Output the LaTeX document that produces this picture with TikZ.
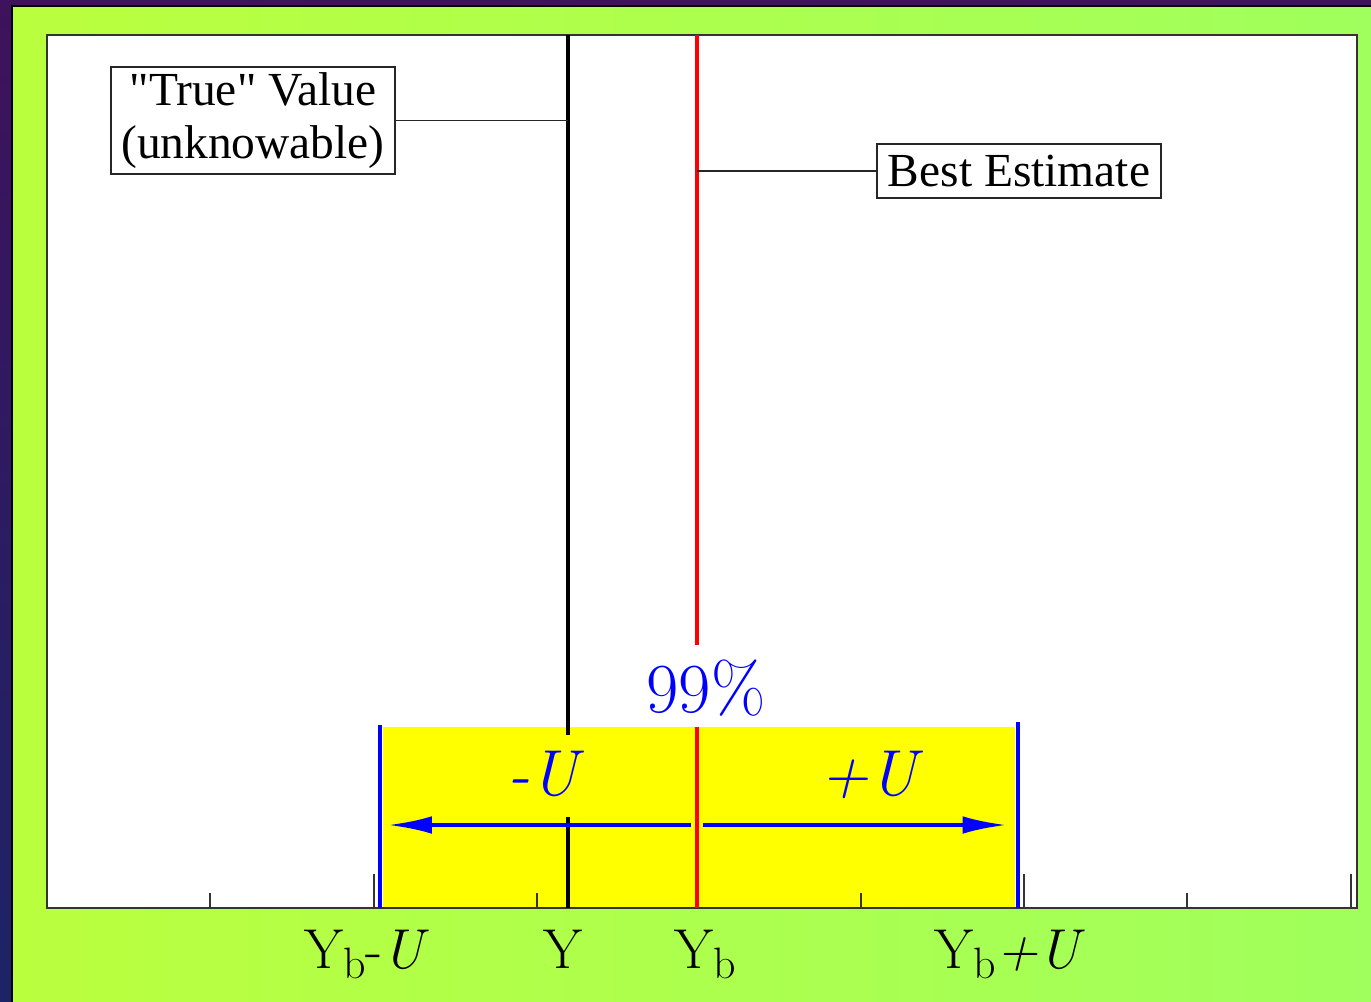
\documentclass[tikz,border=0pt]{standalone}
\usepackage{fontspec}
\newfontfamily\calloutfont{Liberation Serif}
\usetikzlibrary{arrows.meta, positioning}

\definecolor{slidetop}{RGB}{62,18,92}
\definecolor{slidebot}{RGB}{28,36,102}
\definecolor{limeL}{RGB}{186,255,62}
\definecolor{limeM}{RGB}{140,255,115}
\definecolor{limeR}{RGB}{160,255,92}
\definecolor{bandyellow}{RGB}{255,255,0}

\newcommand{\subb}{\raisebox{-5.7pt}{\fontsize{25}{28}\selectfont b}}

\begin{document}
\begin{tikzpicture}[x=0.02cm, y=-0.02cm,
            caja/.style={rectangle, draw=black!85, line width=1.2pt, fill=white, inner sep=0pt, align=center, font=\calloutfont\fontsize{27}{30}\selectfont},
            marca/.style={line width=2.3pt},
            flecha/.style={blue, line width=2.3pt, -{Latex[length=25pt, width=10pt]}},
            etiqueta/.style={blue, anchor=base, inner sep=0pt, font=\fontsize{37}{42}\selectfont},
            eje/.style={anchor=base, inner sep=0pt, font=\fontsize{32}{36}\selectfont},
            rayita/.style={line width=1.2pt, black!80}]

            \useasboundingbox (0,0) rectangle (1371,1001);
            % slide background
            \shade[top color=slidetop, bottom color=slidebot] (0,0) rectangle (1371,1001);
            \shadedraw[left color=limeL, middle color=limeM, right color=limeR, draw=black, line width=0.8pt] (12,6) rectangle (1373,1003);

            % plot area and the 99% band
            \fill[white] (47,35) rectangle (1357,908);
            \fill[bandyellow] (383,727) rectangle (1015,908);
            \draw[black!80, line width=1.4pt] (47,35) rectangle (1357,908);

            \coordinate (trueT) at (568,35);
            \coordinate (trueB) at (568,908);
            \coordinate (bestT) at (697,35);
            \coordinate (bestB) at (697,908);
            \coordinate (minT) at (380,725);
            \coordinate (minB) at (380,908);
            \coordinate (maxT) at (1018,722);
            \coordinate (maxB) at (1018,908);

            \draw[marca] (trueT) -- (trueB);
            \draw[marca, red] (bestT) -- (bestB);
            \draw[marca, blue] (minT) -- (minB);
            \draw[marca, blue] (maxT) -- (maxB);

            \foreach \x in {210,537,861,1187}
                \draw[rayita] (\x,908) -- (\x,893);
            \foreach \x in {374,1024,1351}
                \draw[rayita] (\x,908) -- (\x,874);

            \node[etiqueta, font=\fontsize{40}{44}\selectfont, fill=white, text height=38pt, text depth=8.5pt] (pct) at (706,712) {99\%};
            \node[etiqueta, fill=bandyellow, inner xsep=2pt, text height=34pt, text depth=12.5pt] (menosU) at (546,795) {\textit{-U}};
            \node[etiqueta] (masU) at (872,795) {\textit{+U}};

            \coordinate (centro) at (697,825);
            \draw[flecha, shorten <=3.2pt, shorten >=4.5pt] (centro) -- (centro -| minT);
            \draw[flecha, shorten <=3.2pt, shorten >=6.5pt] (centro) -- (centro -| maxT);

            \node[eje] (ymenos) at (367,968) {Y\subb-\textit{U}};
            \node[eje] (yval) at (563,968) {Y};
            \node[eje] (yb) at (705,968) {Y\subb};
            \node[eje] (ymas) at (1010,968) {Y\subb\textit{+U}};

            \node[caja, minimum width=5.68cm, minimum height=2.14cm] (verdad) at (253,120.5) {"True" Value\\(unknowable)};
            \node[caja, minimum width=5.68cm, minimum height=1.08cm] (mejor) at (1019,171) {Best Estimate};
            \draw[line width=1.1pt, black!85] (verdad.east) -- (verdad.east -| trueT);
            \draw[line width=1.1pt, black!85] (mejor.west) -- (mejor.west -| bestT);
        \end{tikzpicture}
\end{document}
